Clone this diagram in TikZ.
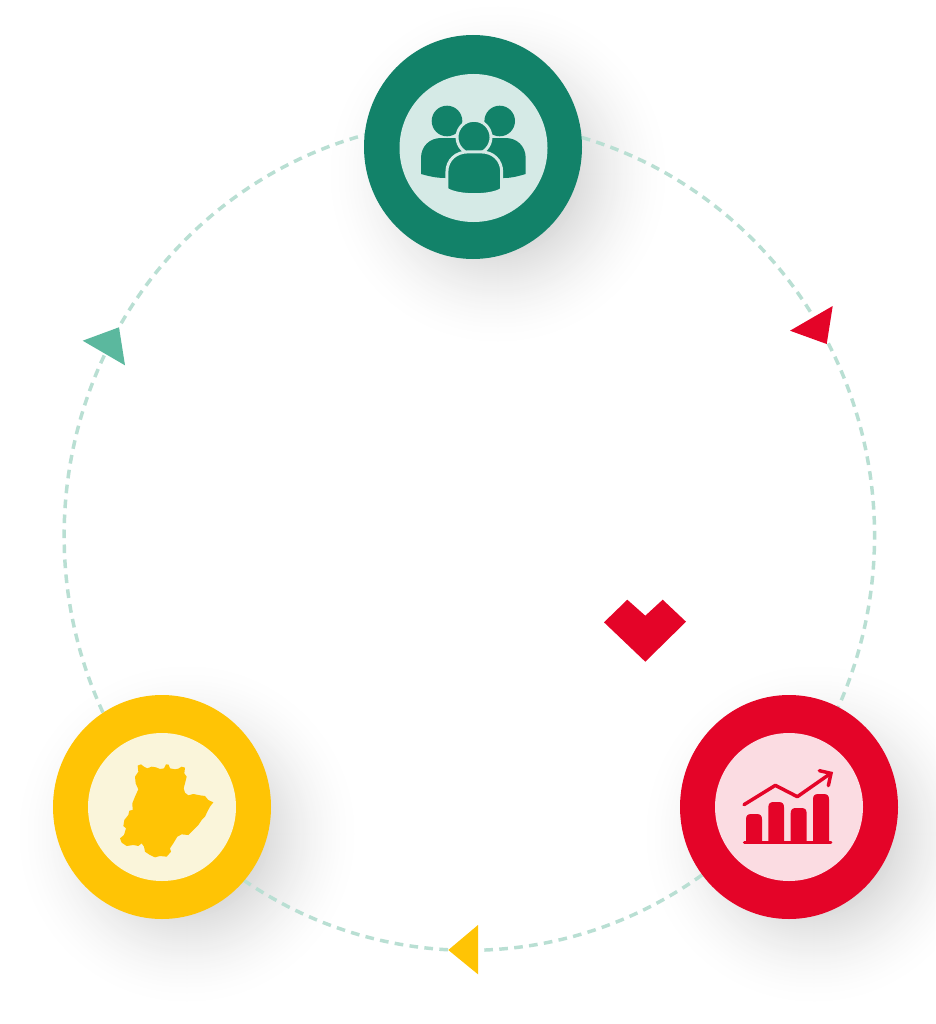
\documentclass[tikz,border=0pt]{standalone}
\usepackage{tikz}
\usepackage{xcolor}
\usetikzlibrary{shapes.geometric, backgrounds}
\definecolor{ringGreen}{RGB}{18, 130, 105}
\definecolor{ringGreenPale}{RGB}{213, 234, 230}
\definecolor{ringGreenTip}{RGB}{91, 184, 158}
\definecolor{ringDash}{RGB}{185, 223, 211}
\definecolor{ringYellow}{RGB}{255, 196, 5}
\definecolor{ringYellowPale}{RGB}{250, 245, 218}
\definecolor{ringRed}{RGB}{228, 4, 40}
\definecolor{ringRedPale}{RGB}{251, 220, 226}

\begin{document}
\begin{tikzpicture}[
            x=0.75pt, y=-0.75pt,
            hub/.style={ellipse, inner sep=0pt, minimum width=163.5pt, minimum height=168pt},
            core/.style={circle, inner sep=0pt, minimum size=111pt},
            ringline/.style={ringDash, line width=2.6pt, dash pattern=on 6.5pt off 4.75pt},
            bodyline/.style={draw=ringGreenPale, line width=2.2pt, fill=ringGreen}
        ]
            \useasboundingbox (0,0) rectangle (935,1024);

            % Three hubs
            \node[hub, fill=ringGreen] (people) at (473,147) {};
            \node[hub, fill=ringRed] (chart) at (789,807) {};
            \node[hub, fill=ringYellow] (map) at (162,807) {};
            \node[core, fill=ringGreenPale] (peoplecore) at (473.5,148) {};
            \node[core, fill=ringRedPale] (chartcore) at (789,807) {};
            \node[core, fill=ringYellowPale] (mapcore) at (162,807) {};

            % Shadows and ring go under the hubs
            \begin{scope}[on background layer]
                \clip (0,0) rectangle (935,1024);
                \fill[white] (0,0) rectangle (935,1024);
                \foreach \cx/\cy in {473/147, 789/807, 162/807}
                    \foreach \grow in {175,173,...,71} {
                        \pgfmathsetmacro{\tone}{15.5*((175-\grow)/105)^1.7}
                        \fill[black!\tone] (\cx+25,\cy+27) circle[radius=\grow];
                    }
                \draw[ringline] (people.5) arc[start angle=-73.9, end angle=26, x radius=405, y radius=414.5];
                \draw[ringline] (chart.218) arc[start angle=54.9, end angle=127, x radius=405, y radius=414.5];
                \draw[ringline] (map.122) arc[start angle=154.7, end angle=258, x radius=405, y radius=414.5];
            \end{scope}

            % Ring tips
            \fill[ringRed] (790,330.7) -- (832.7,306) -- (826.7,344) -- cycle;
            \fill[ringYellow] (448.3,950) -- (478,925) -- (478,974.3) -- cycle;
            \fill[ringGreenTip] (82.7,340.7) -- (119,327.3) -- (125,365.3) -- cycle;

            % Heart
            \fill[ringRed] (604,622.3) -- (627.3,599.7) -- (645.3,615.7) -- (662.7,599.7) -- (686,621.7) -- (645.3,661.7) -- cycle;

            % People icon
            \fill[ringGreen] (447,121) circle[radius=15.3];
            \fill[ringGreen] (499.7,121) circle[radius=15.3];
            \fill[ringGreen] (421,174) -- (421,158) .. controls (421,146) and (430,138) .. (441,138) -- (465,138) -- (465,178) -- (445,178) .. controls (436,178) and (428,176) .. (421,174) -- cycle;
            \fill[ringGreen] (525.7,174) -- (525.7,158) .. controls (525.7,146) and (516.7,138) .. (505.7,138) -- (482,138) -- (482,178) -- (504,178) .. controls (512,178) and (519,176) .. (525.7,174) -- cycle;
            \draw[bodyline] (474,137.3) circle[radius=17];
            \draw[bodyline] (446.9,189.3) -- (446.9,172) .. controls (446.9,160) and (456,151.9) .. (468,151.9) -- (481,151.9) .. controls (493,151.9) and (501.7,160) .. (501.7,172) -- (501.7,189.3) .. controls (491,196.5) and (458,196.5) .. (446.9,189.3) -- cycle;

            % Chart icon
            \begin{scope}[shift={(700,720)}, x=0.25pt, y=-0.25pt]
                \foreach \xa/\xb/\ytop in {138/186/282, 205/252/246, 272/320/264, 339/387/222}
                    \fill[ringRed] (\xa,368) -- (\xa,\ytop+16) .. controls (\xa,\ytop+5) and (\xa+5,\ytop) .. (\xa+16,\ytop) -- (\xb-16,\ytop) .. controls (\xb-5,\ytop) and (\xb,\ytop+5) .. (\xb,\ytop+16) -- (\xb,368) -- cycle;
                \draw[ringRed, line width=2.2pt, line cap=round] (133,368) -- (393,368);
                \draw[ringRed, line width=2.6pt, line cap=round, line join=round] (132,254) -- (226,196) -- (292,230) -- (385,165);
                \draw[ringRed, line width=2.6pt, line cap=round, line join=miter] (358,152) -- (393,160) -- (385,197);
            \end{scope}

            % Map icon
            \begin{scope}[shift={(70,720)}, x=0.25pt, y=-0.25pt]
                \fill[ringYellow] (203,137) -- (213,133) -- (222,140) -- (232,145) -- (245,140) -- (258,142) -- (270,147) -- (282,145) -- (288,133) -- (296,134) -- (300,145) -- (315,148) -- (325,146) -- (335,140) -- (345,143) -- (343,160) -- (350,170) -- (345,190) -- (341,205) -- (345,218) -- (355,226) -- (370,222) -- (390,226) -- (405,228) -- (415,240) -- (430,247) -- (420,260) -- (412,275) -- (405,290) -- (395,300) -- (385,315) -- (370,330) -- (355,345) -- (335,343) -- (322,350) -- (310,370) -- (300,385) -- (303,395) -- (290,410) -- (270,408) -- (255,412) -- (240,405) -- (225,395) -- (222,380) -- (215,370) -- (205,378) -- (190,375) -- (170,378) -- (155,368) -- (150,355) -- (162,345) -- (168,325) -- (160,318) -- (163,300) -- (175,285) -- (178,272) -- (188,270) -- (187,250) -- (195,230) -- (205,208) -- (197,190) -- (195,170) -- (205,155) -- cycle;
            \end{scope}
        \end{tikzpicture}
\end{document}
